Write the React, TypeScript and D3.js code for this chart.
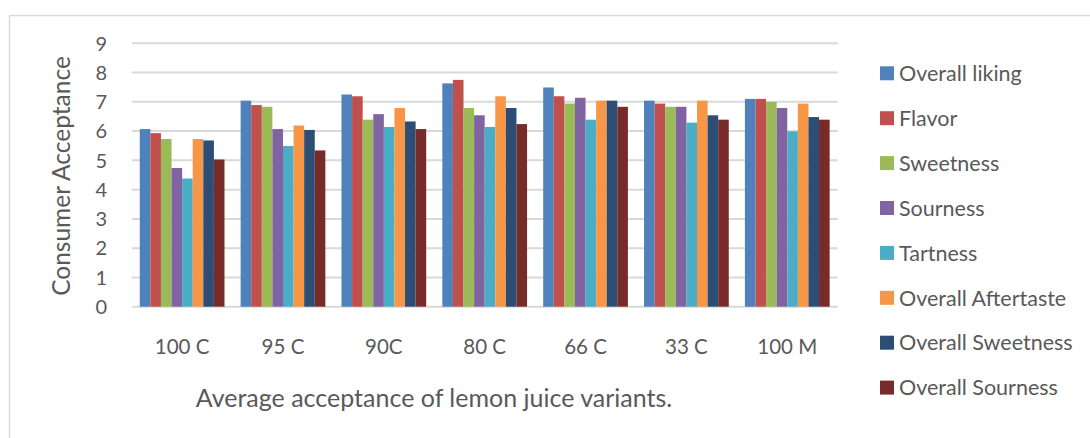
import React from "react";
import * as d3 from "d3";

const categories = ["100 C", "95 C", "90C", "80 C", "66 C", "33 C", "100 M"];
const seriesNames = [
  "Overall liking",
  "Flavor",
  "Sweetness",
  "Sourness",
  "Tartness",
  "Overall Aftertaste",
  "Overall Sweetness",
  "Overall Sourness",
];
const overallLiking = [6.07, 7.04, 7.25, 7.63, 7.49, 7.04, 7.1];
const flavor = [5.93, 6.89, 7.19, 7.75, 7.19, 6.94, 7.1];
const sweetness = [5.73, 6.83, 6.39, 6.79, 6.94, 6.83, 7.0];
const sourness = [4.74, 6.07, 6.58, 6.54, 7.14, 6.83, 6.79];
const tartness = [4.38, 5.49, 6.14, 6.14, 6.39, 6.29, 5.99];
const overallAftertaste = [5.73, 6.19, 6.79, 7.19, 7.04, 7.04, 6.94];
const overallSweetness = [5.68, 6.04, 6.33, 6.79, 7.04, 6.54, 6.48];
const overallSourness = [5.03, 5.34, 6.07, 6.24, 6.83, 6.39, 6.39];
const seriesValues = [
  overallLiking,
  flavor,
  sweetness,
  sourness,
  tartness,
  overallAftertaste,
  overallSweetness,
  overallSourness,
];
const colors = ["#4F81BD", "#C0504D", "#9BBB59", "#8064A2", "#4BACC6", "#F79646", "#2C4D75", "#772C2A"];
const yTicks = [0, 1, 2, 3, 4, 5, 6, 7, 8, 9];
const yTitle = "Consumer Acceptance";
const xTitle = "Average acceptance of lemon juice variants.";

const W = 1090;
const H = 438;
const FONT = "Lato, 'Open Sans', sans-serif";
const TEXT = "#595959";

export default function App() {
  const x0 = d3
    .scaleBand<string>()
    .domain(categories)
    .range([131.7, 837.7])
    .paddingInner(0.16)
    .paddingOuter(0.08);
  const x1 = d3
    .scaleBand<string>()
    .domain(seriesNames)
    .range([0, x0.bandwidth()]);
  const y = d3.scaleLinear().domain([0, 9]).range([306.7, 43.3]);

  return (
    <div style={{ position: "absolute", left: 0, top: 0, width: W, height: H, background: "#fff" }}>
      <svg width={W} height={H} style={{ display: "block" }}>
        <rect x={0} y={0} width={W} height={H} fill="#fff" />
        {/* frame */}
        <line x1={9.5} y1={15.5} x2={W} y2={15.5} stroke="#d9d9d9" strokeWidth={1.5} />
        <line x1={9.5} y1={15.5} x2={9.5} y2={H} stroke="#d9d9d9" strokeWidth={1.5} />
        {/* gridlines */}
        {yTicks.map((t) => (
          <line
            key={t}
            x1={131.7}
            x2={837.7}
            y1={y(t)}
            y2={y(t)}
            stroke="#d9d9d9"
            strokeWidth={2}
          />
        ))}
        {/* y tick labels */}
        {yTicks.map((t) => (
          <text
            key={"yl" + t}
            x={107}
            y={y(t)}
            dy="0.36em"
            textAnchor="end"
            fontFamily={FONT}
            fontSize={20}
            fill={TEXT}
          >
            {t}
          </text>
        ))}
        {/* bars */}
        {categories.map((c, ci) => (
          <g key={c} transform={`translate(${x0(c)},0)`}>
            {seriesNames.map((s, si) => {
              const v = seriesValues[si][ci];
              return (
                <rect
                  key={s}
                  x={x1(s)}
                  y={y(v)}
                  width={x1.bandwidth()}
                  height={y(0) - y(v)}
                  fill={colors[si]}
                />
              );
            })}
          </g>
        ))}
        {/* x tick labels */}
        {categories.map((c) => (
          <text
            key={"xl" + c}
            x={(x0(c) as number) + x0.bandwidth() / 2}
            y={346.7}
            dy="0.36em"
            textAnchor="middle"
            fontFamily={FONT}
            fontSize={20.5}
            fill={TEXT}
          >
            {c}
          </text>
        ))}
        {/* axis titles */}
        <text
          x={434}
          y={398}
          dy="0.36em"
          textAnchor="middle"
          fontFamily={FONT}
          fontSize={25}
          fill={TEXT}
        >
          {xTitle}
        </text>
        <text
          transform="translate(61,176) rotate(-90)"
          dy="0.36em"
          textAnchor="middle"
          fontFamily={FONT}
          fontSize={24.5}
          fill={TEXT}
        >
          {yTitle}
        </text>
        {/* legend */}
        {seriesNames.map((s, i) => {
          const cy = 73.3 + i * 44.9;
          return (
            <g key={"lg" + s}>
              <rect x={880} y={cy - 7} width={14} height={14} fill={colors[i]} />
              <text
                x={899}
                y={cy}
                dy="0.36em"
                fontFamily={FONT}
                fontSize={21.5}
                fill={TEXT}
              >
                {s}
              </text>
            </g>
          );
        })}
      </svg>
    </div>
  );
}
